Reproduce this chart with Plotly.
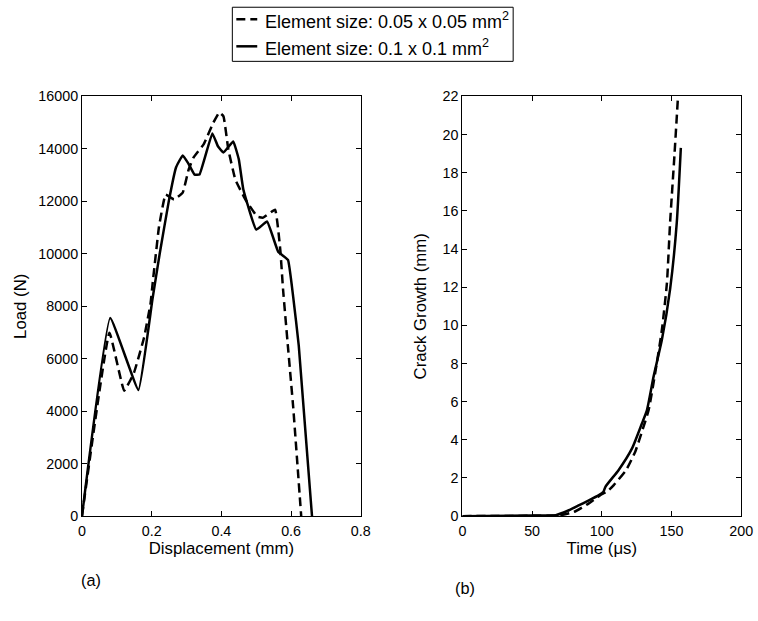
import plotly.graph_objects as go

# ---- data ----
disp_fine = [0, 0.079, 0.121, 0.149, 0.178, 0.197, 0.203, 0.221, 0.24, 0.264, 0.289, 0.306,
             0.32, 0.349, 0.377, 0.394, 0.406, 0.42, 0.44, 0.469, 0.503, 0.52, 0.554, 0.569,
             0.577, 0.591, 0.606, 0.629]
load_fine = [0, 6990, 4780, 5460, 6800, 8130, 8900, 11030, 12260, 12070, 12330, 13210,
             13670, 14170, 15000, 15390, 15240, 13970, 12830, 12070, 11420, 11380, 11680, 10150,
             8630, 6450, 4160, 0]

disp_coarse = [0, 0.081, 0.162, 0.202, 0.223, 0.249, 0.27, 0.289, 0.305, 0.323, 0.337, 0.374,
               0.39, 0.406, 0.434, 0.45, 0.463, 0.5, 0.531, 0.563, 0.591, 0.606, 0.622, 0.66]
load_coarse = [0, 7550, 4810, 8250, 10000, 12000, 13300, 13750, 13450, 13020, 13020, 14590,
               14100, 13860, 14280, 13600, 12450, 10920, 11230, 10080, 9770, 8360, 6500, 0]

time_fine = [0, 50, 70, 80, 90.7, 97, 100, 104, 108.6, 117.4, 124, 128.8, 133.6, 138.3,
             143.1, 146.7, 149.0, 152.1, 154.5, 156]
crack_fine = [0, 0.02, 0.05, 0.22, 0.67, 1.0, 1.15, 1.3, 1.63, 2.41, 3.38, 4.43, 5.56, 7.5,
              9.76, 12.2, 15.4, 18.9, 21.8, 23.6]

time_coarse = [0, 50, 67, 76.4, 83, 90, 97.9, 101.2, 102.6, 112, 121.7, 128.8, 132.4, 137.1,
               143.1, 149, 153.8, 156.7]
crack_coarse = [0, 0.03, 0.05, 0.31, 0.55, 0.8, 1.1, 1.28, 1.54, 2.41, 3.55, 4.86, 5.56, 7.3,
                9.24, 11.9, 15.4, 19.3]

load_ticks = [0, 2000, 4000, 6000, 8000, 10000, 12000, 14000, 16000]
disp_ticks = [0, 0.2, 0.4, 0.6, 0.8]
time_ticks = [0, 50, 100, 150, 200]
crack_ticks = [0, 2, 4, 6, 8, 10, 12, 14, 16, 18, 20, 22]

name_fine = "Element size: 0.05 x 0.05 mm<sup>2</sup>"
name_coarse = "Element size: 0.1 x 0.1 mm<sup>2</sup>"
panel_labels = ["(a)", "(b)"]

FONT = "Liberation Sans, Arial, sans-serif"
W, H = 758, 621

# observed mapping of the captured picture: shown = a + s * figure pixel
AX, SX = 2.7, 0.983
AY, SY = 8.75, 0.9725


def fx(p):  # target picture x-pixel -> paper fraction
    return ((p - AX) / SX) / W


def fy(p):  # target picture y-pixel (from top) -> paper fraction (from bottom)
    return 1 - ((p - AY) / SY) / H


DASH = "9px,5px"
LW = 2.5

fig = go.Figure()
fig.add_trace(go.Scatter(x=disp_fine, y=load_fine, mode="lines", name=name_fine,
                         line=dict(color="black", width=LW, dash=DASH, shape="spline", smoothing=0.3),
                         xaxis="x", yaxis="y", showlegend=False))
fig.add_trace(go.Scatter(x=disp_coarse, y=load_coarse, mode="lines", name=name_coarse,
                         line=dict(color="black", width=LW, shape="spline", smoothing=0.3),
                         xaxis="x", yaxis="y", showlegend=False))
fig.add_trace(go.Scatter(x=time_fine, y=crack_fine, mode="lines", name=name_fine,
                         line=dict(color="black", width=LW, dash=DASH, shape="spline", smoothing=0.5),
                         xaxis="x2", yaxis="y2", showlegend=False))
fig.add_trace(go.Scatter(x=time_coarse, y=crack_coarse, mode="lines", name=name_coarse,
                         line=dict(color="black", width=LW, shape="spline", smoothing=0.5),
                         xaxis="x2", yaxis="y2", showlegend=False))

common = dict(showline=True, linecolor="black", linewidth=1, mirror="ticks",
              ticks="inside", ticklen=5, tickcolor="black", showgrid=False, zeroline=False,
              tickfont=dict(family=FONT, size=14.3, color="black"))

ydom = [fy(516), fy(97)]
TFONT = dict(family=FONT, size=16.8, color="black")

# legend drawn as a framed box with line samples and texts
LEG_X0, LEG_X1, LEG_Y0, LEG_Y1 = 232, 514, 8, 62
rows = [(20, name_fine, DASH), (47, name_coarse, "solid")]
shapes = [dict(type="rect", xref="paper", yref="paper",
               x0=fx(LEG_X0), x1=fx(LEG_X1), y0=fy(LEG_Y1), y1=fy(LEG_Y0),
               line=dict(color="black", width=1), fillcolor="white")]
annotations = []
for yrow, label, dsh in rows:
    shapes.append(dict(type="line", xref="paper", yref="paper",
                       x0=fx(236), x1=fx(257), y0=fy(yrow), y1=fy(yrow),
                       line=dict(color="black", width=LW, dash=dsh)))
    annotations.append(dict(text=label, x=fx(263), y=fy(yrow + 1), xref="paper", yref="paper",
                            xanchor="left", yanchor="middle", showarrow=False,
                            font=dict(family=FONT, size=18, color="black")))

for lab, (px, py) in zip(panel_labels, [(90, 580), (466, 588)]):
    annotations.append(dict(text=lab, x=fx(px), y=fy(py), xref="paper", yref="paper",
                            xanchor="center", yanchor="middle", showarrow=False,
                            font=dict(family=FONT, size=16.3, color="black")))

fig.update_layout(
    width=W, height=H,
    margin=dict(l=0, r=0, t=0, b=0),
    paper_bgcolor="white", plot_bgcolor="white",
    font=dict(family=FONT, color="black"),
    showlegend=False,
    xaxis=dict(domain=[fx(81), fx(361)], range=[0, 0.8], tickvals=disp_ticks,
               ticktext=[str(v) for v in disp_ticks], anchor="y", ticklabelstandoff=2,
               title=dict(text="Displacement (mm)", font=TFONT, standoff=3), **common),
    yaxis=dict(domain=ydom, range=[0, 16000], tickvals=load_ticks,
               ticktext=[str(v) for v in load_ticks], anchor="x",
               title=dict(text="Load (N)", font=TFONT, standoff=7), **common),
    xaxis2=dict(domain=[fx(463), fx(743)], range=[0, 200], tickvals=time_ticks,
                ticktext=[str(v) for v in time_ticks], anchor="y2", ticklabelstandoff=2,
                title=dict(text="Time (\u03bcs)", font=TFONT, standoff=3), **common),
    yaxis2=dict(domain=ydom, range=[0, 22], tickvals=crack_ticks,
                ticktext=[str(v) for v in crack_ticks], anchor="x2",
                title=dict(text="Crack Growth (mm)", font=TFONT, standoff=11), **common),
    shapes=shapes,
    annotations=annotations,
)

fig.write_html("out.html")
